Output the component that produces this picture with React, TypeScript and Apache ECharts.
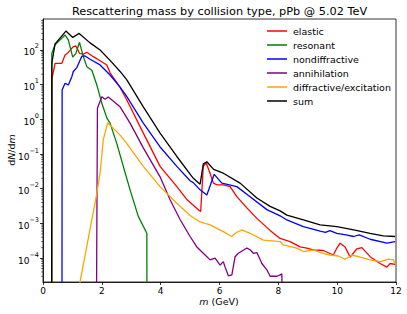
import React, { useEffect, useRef } from "react";
import * as echarts from "echarts";

// [m (GeV), dN/dm] ; 0 marks an empty bin (drawn off the bottom as in a log plot)
const ELASTIC: [number, number][] = [
  [0.29, 0], [0.30, 14], [0.41, 41], [0.64, 41], [0.75, 72], [0.86, 85], [1.03, 125], [1.12, 130],
  [1.24, 80], [1.37, 76], [1.49, 86], [1.71, 64], [1.94, 49], [2.17, 37], [2.28, 22], [2.62, 8.3],
  [2.85, 3.6], [3.41, 0.40], [3.98, 0.044], [4.55, 0.0115], [4.9, 0.0048], [5.30, 0.0024],
  [5.36, 0.0022], [5.45, 0.045], [5.55, 0.055], [5.68, 0.028], [5.79, 0.0145], [5.91, 0.013],
  [6.13, 0.013], [6.36, 0.0115], [6.59, 0.0059], [6.93, 0.0028], [7.27, 0.0014], [7.72, 0.00063],
  [8.06, 0.00037], [8.40, 0.0003], [8.74, 0.00021], [8.97, 0.000195], [9.19, 0.000174],
  [9.53, 0.000166], [9.87, 0.000123], [9.99, 0.000195], [10.10, 0.00027], [10.27, 0.00021],
  [10.44, 0.000107], [10.67, 0.000186], [10.84, 0.0002], [11.12, 0.00011], [11.46, 0.00007],
  [11.69, 0.000055], [11.80, 0.00007], [11.97, 0.000066],
];
const RESONANT: [number, number][] = [
  [0.29, 0], [0.30, 80], [0.41, 140], [0.75, 270], [0.86, 195], [1.01, 62], [1.12, 80], [1.24, 166],
  [1.37, 65], [1.49, 33], [1.66, 26], [1.83, 9.8], [2.00, 2.9], [2.17, 1.1], [2.28, 0.78],
  [2.51, 0.2], [2.73, 0.044], [2.96, 0.0093], [3.24, 0.0016], [3.53, 0.00052], [3.54, 0],
];
const NONDIFFRACTIVE: [number, number][] = [
  [0.64, 0], [0.65, 7], [0.75, 11], [0.86, 9.8], [0.98, 17], [1.03, 24], [1.15, 31], [1.32, 66],
  [1.43, 67], [1.60, 54], [1.94, 37], [2.28, 19], [2.62, 8.5], [2.85, 4.5], [3.41, 0.78],
  [3.98, 0.16], [4.55, 0.044], [5.0, 0.017], [5.11, 0.015], [5.34, 0.0093], [5.57, 0.0066],
  [5.82, 0.026], [6.08, 0.0145], [6.59, 0.0115], [7.04, 0.0059], [7.61, 0.0025], [8.06, 0.00166],
  [8.29, 0.00126], [8.85, 0.00081], [9.42, 0.0006], [9.6, 0.00055], [9.75, 0.00062], [9.99, 0.00052],
  [10.3, 0.00047], [10.56, 0.00042], [10.75, 0.00047], [11.12, 0.00035], [11.69, 0.00027],
  [11.97, 0.0003],
];
const ANNIHILATION: [number, number][] = [
  [1.78, 0], [1.85, 2.1], [2.00, 4.5], [2.11, 3.8], [2.22, 4.4], [2.62, 2.3], [2.96, 0.78],
  [3.41, 0.15], [3.98, 0.022], [4.32, 0.0048], [4.66, 0.0013], [5.0, 0.00042], [5.23, 0.00021],
  [5.45, 0.000138], [5.68, 0.000089], [5.85, 0.0001], [6.02, 0.000063], [6.13, 0.000079],
  [6.19, 0.000055], [6.30, 0.000031], [6.42, 0.000033], [6.53, 0.00011], [6.64, 0.000138],
  [6.93, 0.000195], [7.04, 0.000174], [7.15, 0.000138], [7.27, 0.000145], [7.44, 0.00007],
  [7.61, 0.000046], [7.72, 0.00003], [7.95, 0.00003], [8.06, 0.000033], [8.12, 0.000035], [8.18, 0],
];
const DIFFRACTIVE: [number, number][] = [
  [1.1, 0.000004], [1.83, 0.0074], [1.94, 0.028], [2.05, 0.26], [2.2, 0.8], [2.62, 0.35],
  [2.85, 0.2], [3.41, 0.044], [3.98, 0.0115], [4.55, 0.0038], [5.0, 0.0017], [5.34, 0.0011],
  [5.68, 0.00091], [6.13, 0.00058], [6.42, 0.00042], [6.53, 0.00052], [6.76, 0.00065],
  [7.04, 0.00052], [7.49, 0.00033], [8.06, 0.0003], [8.17, 0.00024], [8.63, 0.000195],
  [8.85, 0.000155], [9.19, 0.000174], [9.42, 0.000145], [9.76, 0.000123], [10.04, 0.000115],
  [10.27, 0.000093], [10.50, 0.000123], [10.78, 0.000107], [11.12, 0.000089], [11.46, 0.000079],
  [11.74, 0.000093], [11.91, 0.000089], [11.97, 0.000068],
];
const SUM: [number, number][] = [
  [0.29, 0], [0.30, 42], [0.41, 150], [0.78, 350], [1.01, 230], [1.23, 300], [1.60, 160],
  [1.94, 100], [2.28, 50], [2.62, 24], [2.85, 13.8], [3.41, 2.3], [3.98, 0.40], [4.55, 0.085],
  [5.11, 0.020], [5.34, 0.0135], [5.45, 0.052], [5.57, 0.06], [5.80, 0.036], [6.13, 0.028],
  [6.70, 0.0145], [7.27, 0.0054], [7.72, 0.0031], [8.06, 0.0023], [8.29, 0.00174],
  [8.85, 0.00126], [9.42, 0.00091], [9.99, 0.00081], [10.56, 0.00065], [11.12, 0.00052],
  [11.57, 0.00044], [11.97, 0.00042],
];

const SERIES_NAMES = ["elastic", "resonant", "nondiffractive", "annihilation", "diffractive/excitation", "sum"];
const SERIES_DATA = [ELASTIC, RESONANT, NONDIFFRACTIVE, ANNIHILATION, DIFFRACTIVE, SUM];
const SERIES_COLORS = ["#ff0000", "#008000", "#0000ff", "#800080", "#ffa500", "#000000"];

const X_TICKS = [0, 2, 4, 6, 8, 10, 12];
const Y_MIN = 2.05e-5;
const Y_MAX = 780;
const MINOR_MULTS = [2, 3, 4, 5, 6, 7, 8, 9];
const MINOR_DECADES = [-5, -4, -3, -2, -1, 0, 1, 2];

const FONT = "DejaVu Sans";

export default function App() {
  const ref = useRef<HTMLDivElement>(null);
  useEffect(() => {
    document.body.style.margin = "0";
    const chart = echarts.init(ref.current!, null, { renderer: "svg" });
    const minor: number[][] = [];
    MINOR_DECADES.forEach((d) =>
      MINOR_MULTS.forEach((k) => {
        const v = k * Math.pow(10, d);
        if (v > Y_MIN && v < Y_MAX) minor.push([0, v]);
      })
    );
    const lineSeries = SERIES_NAMES.map((name, i) => ({
      name,
      type: "line",
      data: SERIES_DATA[i].map(([m, v]) => [m, v === 0 ? 1e-12 : v]),
      showSymbol: false,
      symbol: "none",
      clip: true,
      lineStyle: { color: SERIES_COLORS[i], width: 1.3 },
      itemStyle: { color: SERIES_COLORS[i] },
      z: 3,
    }));
    chart.setOption({
      animation: false,
      grid: { left: 43, right: 11, top: 19, bottom: 32, show: true, borderColor: "#000", borderWidth: 0.8 },
      xAxis: {
        type: "value",
        min: 0,
        max: 12,
        interval: 2,
        axisLine: { lineStyle: { color: "#000", width: 0.8 } },
        axisTick: { length: 3, lineStyle: { color: "#000", width: 0.8 } },
        axisLabel: { color: "#000", fontSize: 9, fontFamily: FONT, margin: 4,
          formatter: (v: number) => (X_TICKS.includes(v) ? String(v) : "") },
        splitLine: { show: false },
      },
      yAxis: {
        type: "log",
        logBase: 10,
        min: Y_MIN,
        max: Y_MAX,
        splitNumber: 8,
        axisLine: { lineStyle: { color: "#000", width: 0.8 } },
        axisTick: { length: 3, lineStyle: { color: "#000", width: 0.8 } },
        axisLabel: {
          color: "#000",
          fontFamily: FONT,
          margin: 4,
          showMinLabel: false,
          showMaxLabel: false,
          formatter: (v: number) => {
            const e = Math.round(Math.log10(v));
            if (Math.abs(Math.log10(v) - e) > 0.01) return "";
            return "{b|10}{s|" + (e < 0 ? "\u2212" + -e : String(e)) + "}";
          },
          rich: {
            b: { fontSize: 9, fontFamily: FONT, color: "#000", lineHeight: 14, verticalAlign: "bottom" },
            s: { fontSize: 6.5, fontFamily: FONT, color: "#000", lineHeight: 9, verticalAlign: "top" },
          },
        },
        splitLine: { show: false },
      },
      legend: {
        data: SERIES_NAMES,
        orient: "vertical",
        left: 262,
        top: 20,
        itemWidth: 20,
        itemHeight: 1.5,
        itemGap: 2.0,
        icon: "rect",
        textStyle: { fontFamily: FONT, fontSize: 9.5, color: "#000", lineHeight: 12, padding: [0, 0, 0, 1] },
      },
      graphic: [
        {
          type: "text",
          x: 219.5,
          y: 11,
          style: { text: "Rescattering mass by collision type, pPb @ 5.02 TeV", font: `11.3px ${FONT}`,
            fill: "#000", textAlign: "center", textVerticalAlign: "middle" },
        },
        {
          type: "text",
          x: 11,
          y: 150,
          rotation: Math.PI / 2,
          style: { text: "d{i|N}/d{i|m}", fontFamily: FONT, fontSize: 9.5, fill: "#000",
            rich: { i: { fontStyle: "italic", fontFamily: FONT, fontSize: 9.5 } },
            textAlign: "center", textVerticalAlign: "middle" },
        },
        {
          type: "text",
          x: 219,
          y: 301,
          style: { text: "{i|m} (GeV)", fontFamily: FONT, fontSize: 9.5, fill: "#000",
            rich: { i: { fontStyle: "italic", fontFamily: FONT, fontSize: 9.5 } },
            textAlign: "center", textVerticalAlign: "middle" },
        },
      ],
      series: [
        ...lineSeries,
        {
          name: "minorTicks",
          type: "custom",
          data: minor,
          clip: false,
          silent: true,
          renderItem: (_p: any, api: any) => {
            const pt = api.coord([api.value(0), api.value(1)]);
            return {
              type: "line",
              shape: { x1: pt[0] - 1.8, y1: pt[1], x2: pt[0], y2: pt[1] },
              style: { stroke: "#000", lineWidth: 0.6 },
            };
          },
        },
      ],
    });
    return () => chart.dispose();
  }, []);
  return <div ref={ref} style={{ width: 407, height: 314 }} />;
}
